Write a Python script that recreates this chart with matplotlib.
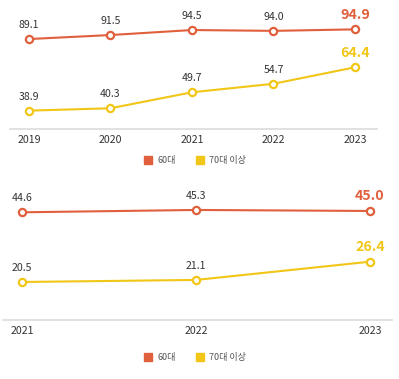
import matplotlib.pyplot as plt
from matplotlib.patches import Patch

plt.rcParams['font.family'] = ['Noto Sans CJK KR', 'DejaVu Sans']

# 상단: 2019-2023
years_top = [2019, 2020, 2021, 2022, 2023]
age60_top = [89.1, 91.5, 94.5, 94.0, 94.9]
age70_top = [38.9, 40.3, 49.7, 54.7, 64.4]

# 하단: 2021-2023
years_bot = [2021, 2022, 2023]
age60_bot = [44.6, 45.3, 45.0]
age70_bot = [20.5, 21.1, 26.4]

series_names = ['60대', '70대 이상']
C_ORANGE = '#E0603D'
C_YELLOW = '#F2C617'
W, H = 399, 379

fig = plt.figure(figsize=(W / 100, H / 100), dpi=100)


def panel(top, bottom, left, right, xs, y60, y70, xlim, lim60, lim70):
    ax = fig.add_axes([left / W, 1 - bottom / H, (right - left) / W, (bottom - top) / H])
    ax2 = ax.twinx()
    ax.set_xlim(*xlim)
    ax.set_ylim(*lim60)
    ax2.set_ylim(*lim70)
    for a in (ax, ax2):
        a.patch.set_visible(False)
        for s in a.spines.values():
            s.set_visible(False)
        a.set_yticks([])
    ax.spines['bottom'].set_visible(True)
    ax.spines['bottom'].set_color('#dedede')
    ax.spines['bottom'].set_linewidth(1.3)
    ax.set_xticks(xs)
    ax.set_xticklabels([str(x) for x in xs])
    ax.tick_params(axis='x', length=0, pad=4, labelsize=7.6, labelcolor='#333333')

    for a, ys, c in ((ax, y60, C_ORANGE), (ax2, y70, C_YELLOW)):
        a.plot(xs, ys, color=c, lw=1.5, marker='o', ms=5.2,
               mfc='white', mec=c, mew=1.6, zorder=3, clip_on=False)
        for i, (x, y) in enumerate(zip(xs, ys)):
            last = i == len(xs) - 1
            a.annotate(f'{y:.1f}', (x, y), xytext=(0, 10.5 if last else 10),
                       textcoords='offset points', ha='center', va='center',
                       fontsize=10.2 if last else 7.6,
                       fontweight='bold' if last else 'normal',
                       color=c if last else '#333333')
    return ax


panel(10, 129, 10, 377, years_top, age60_top, age70_top,
      (2018.767, 2023.27), (35.2, 106.5), (28.1, 98.1))
panel(185, 320, 3, 392, years_bot, age60_bot, age70_bot,
      (2020.889, 2023.127), (12.45, 52.75), (9.45, 48.7))

handles = [Patch(color=C_ORANGE, label=series_names[0]),
           Patch(color=C_YELLOW, label=series_names[1])]
for yc in (1 - 160.7 / H, 1 - 357.7 / H):
    leg = fig.legend(handles=handles, loc='center', bbox_to_anchor=(195 / W, yc),
                     ncol=2, frameon=False, fontsize=6.5, handlelength=0.9,
                     handleheight=0.9, handletextpad=0.6, columnspacing=2.2)
    for t in leg.get_texts():
        t.set_color('#555555')

fig.savefig('out.png', dpi=100)
